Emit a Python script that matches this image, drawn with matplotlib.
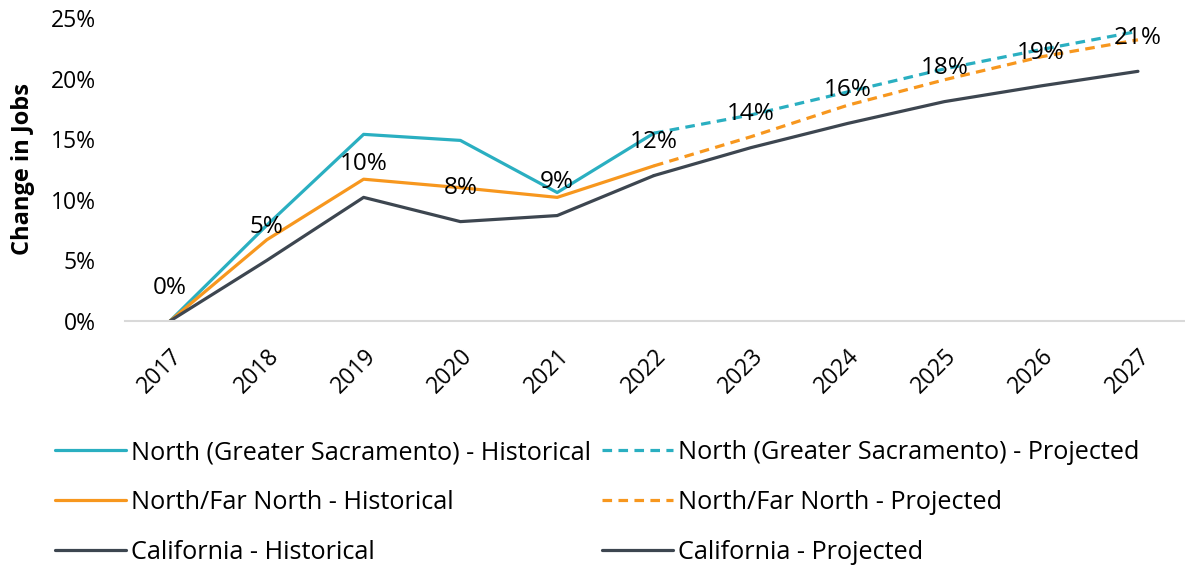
import matplotlib
matplotlib.use("Agg")
import matplotlib.pyplot as plt
from matplotlib.ticker import FuncFormatter

plt.rcParams['font.family'] = ['Open Sans', 'DejaVu Sans']

years = ['2017', '2018', '2019', '2020', '2021', '2022', '2023', '2024', '2025', '2026', '2027']
north_sac = [0.0, 7.9, 15.4, 14.9, 10.6, 15.5, 17.0, 18.9, 20.8, 22.4, 23.9]
north_far = [0.0, 6.7, 11.7, 11.0, 10.2, 12.8, 15.2, 17.8, 19.9, 21.8, 23.2]
california = [0.0, 5.0, 10.2, 8.2, 8.7, 12.0, 14.3, 16.3, 18.1, 19.4, 20.6]
ca_labels = ['0%', '5%', '10%', '8%', '9%', '12%', '14%', '16%', '18%', '19%', '21%']
split = 5  # index of 2022: last historical year

teal = '#2AAFC1'
orange = '#F7971E'
dark = '#3D4650'

fig = plt.figure(figsize=(11.85, 5.69), dpi=100)
W, H = 1185, 569
ax = fig.add_axes([125 / W, 1 - 321 / H, (1185 - 125) / W, (321 - 18) / H])

x = list(range(len(years)))
lw = 2.3
series = [(north_sac, teal, 'North (Greater Sacramento)', (0, (3, 2))),
          (north_far, orange, 'North/Far North', (0, (3, 2))),
          (california, dark, 'California', '-')]
hist_handles, proj_handles = [], []
for vals, col, name, projstyle in series:
    h, = ax.plot(x[:split + 1], vals[:split + 1], color=col, lw=lw, solid_capstyle='round',
                 label=f'{name} - Historical')
    p, = ax.plot(x[split:], vals[split:], color=col, lw=lw, linestyle=projstyle,
                 solid_capstyle='round', label=f'{name} - Projected')
    hist_handles.append(h)
    proj_handles.append(p)

for xi, v, lab in zip(x, california, ca_labels):
    ax.annotate(lab, (xi, v), xytext=(0, 24), textcoords='offset points',
                ha='center', va='center', fontsize=17.5, color='black')

ax.set_xlim(-0.465, 10.486)
ax.set_ylim(0, 25)
ax.set_yticks([0, 5, 10, 15, 20, 25])
ax.yaxis.set_major_formatter(FuncFormatter(lambda v, p: f'{int(v)}%'))
ax.set_xticks(x)
ax.set_xticklabels(years, rotation=45, ha='right', rotation_mode='anchor')
ax.tick_params(axis='both', length=0, labelsize=16.5, colors='black')
ax.tick_params(axis='y', pad=21)
ax.tick_params(axis='x', pad=17)
for s in ['top', 'right', 'left']:
    ax.spines[s].set_visible(False)
ax.spines['bottom'].set_color('#D9D9D9')
ax.spines['bottom'].set_linewidth(1.5)

fig.text(23 / W, 1 - 169 / H, 'Change in Jobs', rotation=90, ha='center', va='center',
         fontsize=17, fontweight='bold')

fig.legend(handles=hist_handles + proj_handles, ncol=2, loc='upper left',
           bbox_to_anchor=(55 / W, 1 - 440 / H), frameon=False, fontsize=18.2,
           handlelength=2.8, handletextpad=0.2, columnspacing=0.45, labelspacing=0.98,
           borderaxespad=0, borderpad=0)

fig.savefig('out.png', dpi=100)
